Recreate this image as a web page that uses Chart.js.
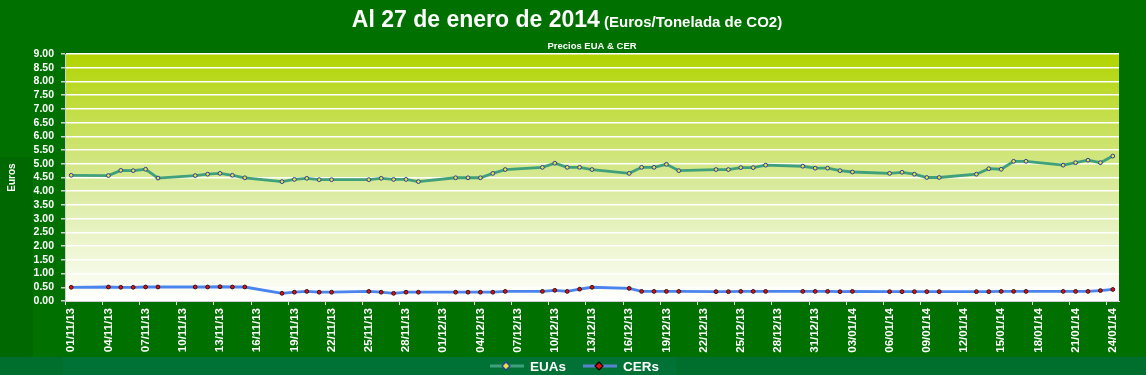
<!DOCTYPE html>
<html>
<head>
<meta charset="utf-8">
<script src="https://cdn.jsdelivr.net/npm/chart.js@4.4.0/dist/chart.umd.min.js"></script>
<style>
html,body{margin:0;padding:0;background:#006f00;}
#wrap{position:relative;width:1146px;height:375px;}
canvas{display:block;}
</style>
</head>
<body>
<div id="wrap"><canvas id="c" width="1146" height="375"></canvas></div>
<script>
// Calendar days shown on the category axis (01/11/13 .. 24/01/14)
const calendarDays = [
 "01/11/13","02/11/13","03/11/13","04/11/13","05/11/13","06/11/13","07/11/13","08/11/13","09/11/13","10/11/13",
 "11/11/13","12/11/13","13/11/13","14/11/13","15/11/13","16/11/13","17/11/13","18/11/13","19/11/13","20/11/13",
 "21/11/13","22/11/13","23/11/13","24/11/13","25/11/13","26/11/13","27/11/13","28/11/13","29/11/13","30/11/13",
 "01/12/13","02/12/13","03/12/13","04/12/13","05/12/13","06/12/13","07/12/13","08/12/13","09/12/13","10/12/13",
 "11/12/13","12/12/13","13/12/13","14/12/13","15/12/13","16/12/13","17/12/13","18/12/13","19/12/13","20/12/13",
 "21/12/13","22/12/13","23/12/13","24/12/13","25/12/13","26/12/13","27/12/13","28/12/13","29/12/13","30/12/13",
 "31/12/13","01/01/14","02/01/14","03/01/14","04/01/14","05/01/14","06/01/14","07/01/14","08/01/14","09/01/14",
 "10/01/14","11/01/14","12/01/14","13/01/14","14/01/14","15/01/14","16/01/14","17/01/14","18/01/14","19/01/14",
 "20/01/14","21/01/14","22/01/14","23/01/14","24/01/14"
];

// Trading days with prices
const tradingDays = [
 "01/11/13",
 "04/11/13","05/11/13","06/11/13","07/11/13","08/11/13",
 "11/11/13","12/11/13","13/11/13","14/11/13","15/11/13",
 "18/11/13","19/11/13","20/11/13","21/11/13","22/11/13",
 "25/11/13","26/11/13","27/11/13","28/11/13","29/11/13",
 "02/12/13","03/12/13","04/12/13","05/12/13","06/12/13",
 "09/12/13","10/12/13","11/12/13","12/12/13","13/12/13",
 "16/12/13","17/12/13","18/12/13","19/12/13","20/12/13",
 "23/12/13","24/12/13","25/12/13","26/12/13","27/12/13",
 "30/12/13","31/12/13","01/01/14","02/01/14","03/01/14",
 "06/01/14","07/01/14","08/01/14","09/01/14","10/01/14",
 "13/01/14","14/01/14","15/01/14","16/01/14","17/01/14",
 "20/01/14","21/01/14","22/01/14","23/01/14","24/01/14"
];

const euaPrices = [
 4.58,
 4.57,4.76,4.75,4.80,4.48,
 4.57,4.62,4.65,4.58,4.49,
 4.35,4.43,4.47,4.42,4.42,
 4.42,4.47,4.43,4.43,4.35,
 4.49,4.49,4.49,4.65,4.79,
 4.87,5.02,4.87,4.87,4.79,
 4.65,4.87,4.87,4.98,4.75,
 4.79,4.79,4.86,4.86,4.95,
 4.91,4.84,4.84,4.75,4.70,
 4.65,4.69,4.62,4.50,4.50,
 4.62,4.82,4.80,5.09,5.09,
 4.95,5.04,5.13,5.04,5.28
];

const cerPrices = [
 0.50,
 0.51,0.50,0.50,0.51,0.51,
 0.51,0.51,0.52,0.51,0.51,
 0.28,0.32,0.35,0.32,0.32,
 0.35,0.32,0.28,0.32,0.32,
 0.32,0.32,0.32,0.32,0.35,
 0.35,0.39,0.35,0.43,0.50,
 0.46,0.35,0.35,0.35,0.35,
 0.34,0.34,0.35,0.35,0.35,
 0.35,0.35,0.35,0.34,0.35,
 0.34,0.34,0.34,0.34,0.34,
 0.34,0.34,0.35,0.35,0.35,
 0.35,0.35,0.35,0.38,0.42
];

const seriesNames = ["EUAs","CERs"];
const mainTitle = "Al 27 de enero de 2014";
const mainTitleSuffix = " (Euros/Tonelada de CO2)";
const subTitle = "Precios EUA & CER";
const yTitle = "Euros";

const SANS = "'Liberation Sans',Arial,sans-serif";

const COL = {
  euaLine:'#3fa07c', euaFill:'#e8e43a', euaBorder:'#2a3aa8',
  cerLine:'#4a84ee', cerFill:'#e01010', cerBorder:'#3a1010'
};

const bgPlugin = {
  id:'bg',
  beforeDraw(chart){
    const c = chart.ctx, a = chart.chartArea;
    c.save();
    c.fillStyle = '#007000';
    c.fillRect(0,0,chart.width,chart.height);
    c.fillStyle = '#006800';
    c.fillRect(0,157,33,200);
    c.fillStyle = '#006e2c';
    c.fillRect(0,357,chart.width,18);
    c.fillStyle = '#007236';
    c.fillRect(63,357,613,18);
    const g = c.createLinearGradient(0,a.top,0,a.bottom);
    g.addColorStop(0,'#b1d400');
    g.addColorStop(0.5,'#d6e994');
    g.addColorStop(1,'#ffffff');
    c.fillStyle = g;
    c.fillRect(a.left,a.top,a.right-a.left,a.bottom-a.top);
    c.restore();
  },
  afterDraw(chart){
    const c = chart.ctx, a = chart.chartArea;
    c.save();
    c.fillStyle = '#ffffff';
    c.textBaseline = 'alphabetic';
    // main title
    c.font = "bold 23px " + SANS;
    const w1 = c.measureText(mainTitle).width;
    c.font = "bold 15px " + SANS;
    const w2 = c.measureText(mainTitleSuffix).width;
    let x0 = 567 - (w1+w2)/2;
    c.textAlign = 'left';
    c.font = "bold 23px " + SANS;
    c.fillText(mainTitle, x0, 27);
    c.font = "bold 15px " + SANS;
    c.fillText(mainTitleSuffix, x0 + w1, 27);
    // subtitle
    c.textAlign = 'center';
    c.font = "bold 9.5px " + SANS;
    c.fillText(subTitle, (a.left+a.right)/2, 49);
    // legend
    const items = [
      {x:490, line:COL.euaLine, fill:COL.euaFill, border:COL.euaBorder, label:seriesNames[0]},
      {x:583, line:'#5a84d0', fill:COL.cerFill, border:'#000000', label:seriesNames[1]}
    ];
    const ly = 366;
    items.forEach(it=>{
      c.strokeStyle = it.line; c.lineWidth = 3;
      c.beginPath(); c.moveTo(it.x, ly); c.lineTo(it.x+34, ly); c.stroke();
      const cx = it.x+16;
      c.beginPath();
      c.moveTo(cx, ly-4); c.lineTo(cx+4, ly); c.lineTo(cx, ly+4); c.lineTo(cx-4, ly); c.closePath();
      c.fillStyle = it.fill; c.fill();
      c.strokeStyle = it.border; c.lineWidth = 1.2; c.stroke();
      c.fillStyle = '#ffffff';
      c.textAlign = 'left';
      c.font = "bold 13.5px " + SANS;
      c.fillText(it.label, it.x+40, ly+5);
    });
    c.restore();
  }
};

new Chart(document.getElementById('c'), {
  type:'line',
  data:{
    labels: calendarDays,
    datasets:[
      {
        label: seriesNames[0],
        data: tradingDays.map((d,i)=>({x:d, y:euaPrices[i]})),
        borderColor: COL.euaLine, borderWidth: 2.8,
        pointRadius: 1.9, pointBorderWidth: 1,
        pointBackgroundColor: COL.euaFill, pointBorderColor: COL.euaBorder,
        tension: 0, fill:false
      },
      {
        label: seriesNames[1],
        data: tradingDays.map((d,i)=>({x:d, y:cerPrices[i]})),
        borderColor: COL.cerLine, borderWidth: 2.8,
        pointRadius: 1.9, pointBorderWidth: 1,
        pointBackgroundColor: COL.cerFill, pointBorderColor: COL.cerBorder,
        tension: 0, fill:false
      }
    ]
  },
  options:{
    responsive:false,
    animation:false,
    events:[],
    layout:{padding:{top:54,right:27,bottom:18,left:0}},
    plugins:{legend:{display:false}, title:{display:false}, tooltip:{enabled:false}},
    scales:{
      x:{
        type:'category',
        offset:true,
        grid:{
          offset:true, drawOnChartArea:false, drawTicks:true, tickLength:4,
          tickColor:(ctx)=> (ctx.index % 3 === 0 ? '#e0e0e0' : 'rgba(0,0,0,0)'),
          color:'rgba(0,0,0,0)'
        },
        border:{display:true, color:'#d0d0d0', width:1},
        ticks:{
          autoSkip:false, minRotation:90, maxRotation:90, padding:3,
          color:'#ffffff',
          font:{family:SANS, size:11.5, weight:'bold'},
          callback:function(v, i){ return i % 3 === 0 ? this.getLabelForValue(v) : ''; }
        },
        afterFit(s){ s.height = 56; }
      },
      y:{
        min:0, max:9,
        grid:{color:'#ffffff', lineWidth:1.5, tickLength:4, tickColor:'#d0d0d0'},
        border:{display:true, color:'#d0d0d0', width:1},
        ticks:{
          stepSize:0.5, autoSkip:false, maxTicksLimit:30, padding:7, color:'#ffffff',
          font:{family:SANS, size:10.5, weight:'bold'},
          callback:(v)=> Number(v).toFixed(2)
        },
        title:{display:true, text:yTitle, color:'#ffffff', font:{family:SANS, size:10, weight:'bold'}, padding:{top:6,bottom:0}},
        afterFit(s){ s.width = 65; }
      }
    }
  },
  plugins:[bgPlugin]
});
</script>
</body>
</html>
